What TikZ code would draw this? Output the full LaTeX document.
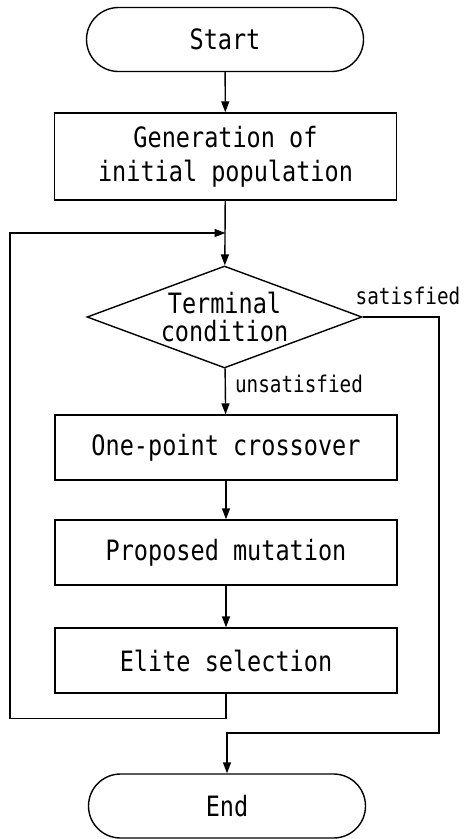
\documentclass[tikz,border=0pt]{standalone}
\usepackage{fontspec}
\newfontfamily\flowfont[FakeStretch=0.84]{DejaVu Sans Mono}
\usetikzlibrary{arrows.meta,shapes.geometric,shapes.misc}

\begin{document}
\begin{tikzpicture}[x=1pt, y=-1pt,
    box/.style={draw, line width=1.4pt, minimum width=342pt, minimum height=65pt,
      inner sep=0pt, align=center, font=\flowfont\fontsize{28}{34}\selectfont},
    term/.style={box, rounded rectangle, minimum width=277pt, minimum height=64pt},
    test/.style={box, diamond, aspect=2.7, minimum width=275pt, minimum height=102pt,
      font=\flowfont\fontsize{28}{28}\selectfont},
    note/.style={inner sep=0pt, font=\flowfont\fontsize{23}{27}\selectfont},
    flow/.style={line width=1.4pt, -{Triangle[length=11pt,width=8pt]}}]
  \useasboundingbox (0,0) rectangle (466,839);

  % the steps
  \node[term] (start) at (225,39.5) {Start};
  \node[box, minimum height=87pt] (gen) at (225.5,156.5) {Generation of\\initial population};
  \node[test] (cond) at (224.5,317) {Terminal\\condition};
  \node[box] (cross) at (226,447.5) {One-point crossover};
  \node[box] (mut) at (226,552.5) {Proposed mutation};
  \node[box] (elite) at (226,660.5) {Elite selection};
  \node[term] (end) at (227,806) {End};

  % labels of the test
  \node[note] (sat) at (408,296) {satisfied};
  \node[note] (unsat) at (299,384) {unsatisfied};

  % corners of the two loops
  \coordinate (back) at (10,233);
  \coordinate (join) at (225.5,233);
  \coordinate (exit) at (439,733);

  \draw[flow] (start) -- (gen);
  \draw[flow] (gen) -- (cond);
  \draw[flow] (cond) -- (cross);
  \draw[flow] (cross) -- (mut);
  \draw[flow] (mut) -- (elite);
  \draw[flow] (elite.south) -- ++(0,25) -| (back) -- (join);
  \draw[flow] (cond.east) -| (exit) -| (end.north);
\end{tikzpicture}
\end{document}
